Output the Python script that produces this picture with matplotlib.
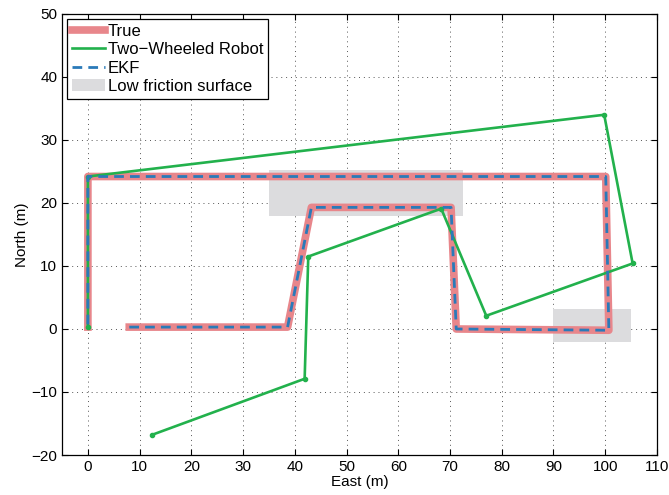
import matplotlib
matplotlib.use("Agg")
import matplotlib.pyplot as plt
from matplotlib.patches import Rectangle

plt.rcParams.update({
    "font.family": ["Liberation Sans", "DejaVu Sans"],
    "font.size": 11,
})

# path vertices
true_east = [8, 38.6, 43.2, 70.2, 71.2, 100.7, 100.1, 0, 0]
true_north = [0.3, 0.3, 19.3, 19.3, 0.0, -0.2, 24.2, 24.2, 0.3]

ekf_east = [8, 38.6, 43.2, 70.2, 71.2, 100.7, 100.1, 0, 0]
ekf_north = [0.3, 0.3, 19.3, 19.3, 0.0, -0.2, 24.2, 24.2, 0.3]

robot_east = [12.4, 41.9, 42.6, 68.3, 77.0, 105.3, 99.8, 0, 0]
robot_north = [-16.8, -7.9, 11.5, 19.1, 2.1, 10.4, 34.0, 24.2, 0.3]

# low friction areas: (east, north, width, height)
friction_zones = [(35, 18, 37.5, 7.2), (90, -2, 15, 5.2)]

fig = plt.figure(figsize=(6.69, 4.95), dpi=100, facecolor="white")
ax = fig.add_axes([0.0927, 0.0808, 0.8893, 0.891])

gray = "#dcdcde"
for i, (x0, y0, w, h) in enumerate(friction_zones):
    ax.add_patch(Rectangle((x0, y0), w, h, facecolor=gray, edgecolor="none",
                           zorder=1, label="Low friction surface" if i == 0 else None))

ax.plot(true_east, true_north, color="#e8868b", lw=5.5, solid_joinstyle="round",
        label="True", zorder=3)
ax.plot(robot_east, robot_north, color="#22b14c", lw=1.9,
        label="Two\u2212Wheeled Robot", zorder=4)
ax.plot(robot_east, robot_north, color="#22b14c", ls="none", marker="o", ms=3,
        zorder=4)
ax.plot(ekf_east, ekf_north, color="#2a7ab9", lw=2, ls=(0, (3.5, 2.2)),
        label="EKF", zorder=5)

ax.set_xlim(-5, 110)
ax.set_ylim(-20, 50)
ax.set_xticks(range(0, 111, 10))
ax.set_yticks(range(-20, 51, 10))
ax.set_xticklabels([str(v).replace("-", "\u2212") for v in range(0, 111, 10)])
ax.set_yticklabels([str(v).replace("-", "\u2212") for v in range(-20, 51, 10)])
ax.tick_params(direction="in", top=True, right=True, length=4, labelsize=11)
ax.grid(True, ls=(0, (1, 4)), color="#555555", lw=0.7)
ax.set_axisbelow(True)
for s in ax.spines.values():
    s.set_linewidth(0.9)
ax.set_xlabel("East (m)", labelpad=1)
ax.set_ylabel("North (m)", labelpad=2)

h, l = ax.get_legend_handles_labels()
order = [l.index("True"), l.index("Two\u2212Wheeled Robot"), l.index("EKF"),
         l.index("Low friction surface")]
leg = ax.legend([h[i] for i in order], [l[i] for i in order], loc="upper left",
                fancybox=False, edgecolor="black", framealpha=1, fontsize=12,
                borderaxespad=0.3, handlelength=2.0, handletextpad=0.15,
                labelspacing=0.2, borderpad=0.3)
leg.get_frame().set_linewidth(0.9)

fig.savefig("out.png", dpi=100, facecolor="white")
